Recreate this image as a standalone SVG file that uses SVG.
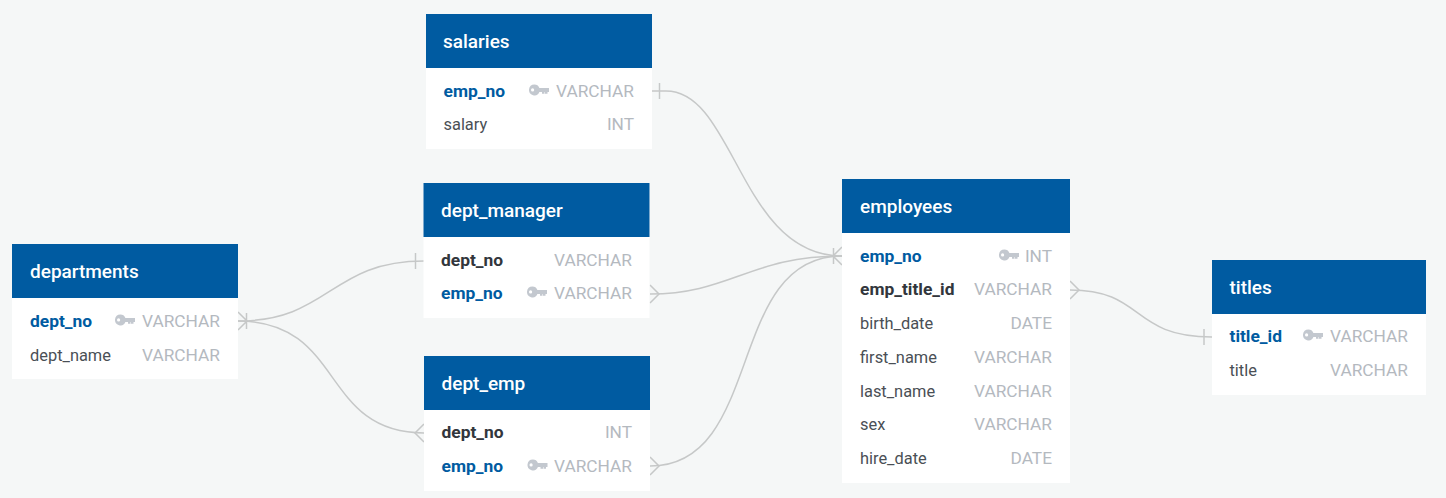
<svg xmlns="http://www.w3.org/2000/svg" xmlns:xlink="http://www.w3.org/1999/xlink" width="1446" height="498" viewBox="0 0 1446 498">
<style>
text{font-family:Roboto,"Liberation Sans",sans-serif;font-size:16.4px}
.body{fill:#fff}
.head{fill:#005ba1}
.title{fill:#fff;font-size:19px;font-weight:500}
.pk{fill:#005ba1;font-weight:700;font-size:17.4px}
.fk{fill:#32363c;font-weight:700;font-size:17.4px}
.col{fill:#4a4f55}
.type{fill:#b4b9bf;text-anchor:end;font-size:17.3px}
.link{fill:none;stroke:#c6c8c8;stroke-width:1.5}
.key{fill:#c3c8cf;fill-rule:evenodd}
</style>
<defs>
<g id="key"><path class="key" d="M5.400 0A5.400 5.400 0 0 1 10.400 3.400H20V7.400H18.500V9.200H16V7.400H15.500V9.200H13V7.400H10.400A5.400 5.400 0 1 1 5.400 0ZM3.600 3.800a1.600 1.600 0 1 0 0 3.200a1.600 1.600 0 0 0 0-3.200Z"/></g>
</defs>
<rect width="1446" height="498" fill="#f5f7f7"/>
<g id="connectors">
<path class="link" d="M652 91H666C735 91 740 256 842 256"/>
<path class="link" d="M659.500 83V99"/>
<path class="link" d="M238 321C330 321 330 261 424 261"/>
<path class="link" d="M238 321C345 321 320 433 424 433"/>
<path class="link" d="M650 294C730 294 750 256 842 256"/>
<path class="link" d="M650 466C765 466 725 256 842 256"/>
<path class="link" d="M1070 290C1145 290 1130 337 1212 337"/>
<path class="link" d="M246.500 313V329M238 312L247 321L238 330"/>
<path class="link" d="M415.500 253V269"/>
<path class="link" d="M424 424L415 433L424 442"/>
<path class="link" d="M650 285L659 294L650 303"/>
<path class="link" d="M650 457L659 466L650 475"/>
<path class="link" d="M833.500 248V264M842 247L833 256L842 265"/>
<path class="link" d="M1070 281L1079 290L1070 299"/>
<path class="link" d="M1204 329V345"/>
</g>
<g id="salaries">
<rect class="body" x="426" y="14" width="226" height="135"/>
<rect class="head" x="426" y="14" width="226" height="54"/>
<text class="title" x="443" y="48">salaries</text>
<text class="pk" x="443.500" y="97">emp_no</text>
<use xlink:href="#key" href="#key" x="529" y="84.500"/>
<text class="type" x="634" y="97">VARCHAR</text>
<text class="col" x="443.500" y="130">salary</text>
<text class="type" x="634" y="130">INT</text>
</g>
<g id="dept_manager">
<rect class="body" x="423.500" y="183" width="226" height="135"/>
<rect class="head" x="423.500" y="183" width="226" height="54"/>
<text class="title" x="441" y="217">dept_manager</text>
<text class="fk" x="441" y="266">dept_no</text>
<text class="type" x="632" y="266">VARCHAR</text>
<text class="pk" x="441" y="299">emp_no</text>
<use xlink:href="#key" href="#key" x="527" y="286.500"/>
<text class="type" x="632" y="299">VARCHAR</text>
</g>
<g id="dept_emp">
<rect class="body" x="424" y="356" width="226" height="135"/>
<rect class="head" x="424" y="356" width="226" height="54"/>
<text class="title" x="441.500" y="390">dept_emp</text>
<text class="fk" x="441.500" y="438">dept_no</text>
<text class="type" x="632" y="438">INT</text>
<text class="pk" x="441.500" y="472">emp_no</text>
<use xlink:href="#key" href="#key" x="527.500" y="459.500"/>
<text class="type" x="632" y="472">VARCHAR</text>
</g>
<g id="departments">
<rect class="body" x="12" y="244" width="226" height="135"/>
<rect class="head" x="12" y="244" width="226" height="54"/>
<text class="title" x="30" y="278">departments</text>
<text class="pk" x="30" y="327">dept_no</text>
<use xlink:href="#key" href="#key" x="115" y="314.500"/>
<text class="type" x="220" y="327">VARCHAR</text>
<text class="col" x="30" y="361">dept_name</text>
<text class="type" x="220" y="361">VARCHAR</text>
</g>
<g id="employees">
<rect class="body" x="842" y="179" width="228" height="304"/>
<rect class="head" x="842" y="179" width="228" height="54"/>
<text class="title" x="860" y="213">employees</text>
<text class="pk" x="860" y="262">emp_no</text>
<use xlink:href="#key" href="#key" x="999" y="249.500"/>
<text class="type" x="1052" y="262">INT</text>
<text class="fk" x="860" y="295">emp_title_id</text>
<text class="type" x="1052" y="295">VARCHAR</text>
<text class="col" x="860" y="329">birth_date</text>
<text class="type" x="1052" y="329">DATE</text>
<text class="col" x="860" y="363">first_name</text>
<text class="type" x="1052" y="363">VARCHAR</text>
<text class="col" x="860" y="397">last_name</text>
<text class="type" x="1052" y="397">VARCHAR</text>
<text class="col" x="860" y="430">sex</text>
<text class="type" x="1052" y="430">VARCHAR</text>
<text class="col" x="860" y="464">hire_date</text>
<text class="type" x="1052" y="464">DATE</text>
</g>
<g id="titles">
<rect class="body" x="1212" y="260" width="214" height="135"/>
<rect class="head" x="1212" y="260" width="214" height="54"/>
<text class="title" x="1229.500" y="294">titles</text>
<text class="pk" x="1229.500" y="342">title_id</text>
<use xlink:href="#key" href="#key" x="1303" y="329.500"/>
<text class="type" x="1408" y="342">VARCHAR</text>
<text class="col" x="1229.500" y="376">title</text>
<text class="type" x="1408" y="376">VARCHAR</text>
</g>
</svg>
